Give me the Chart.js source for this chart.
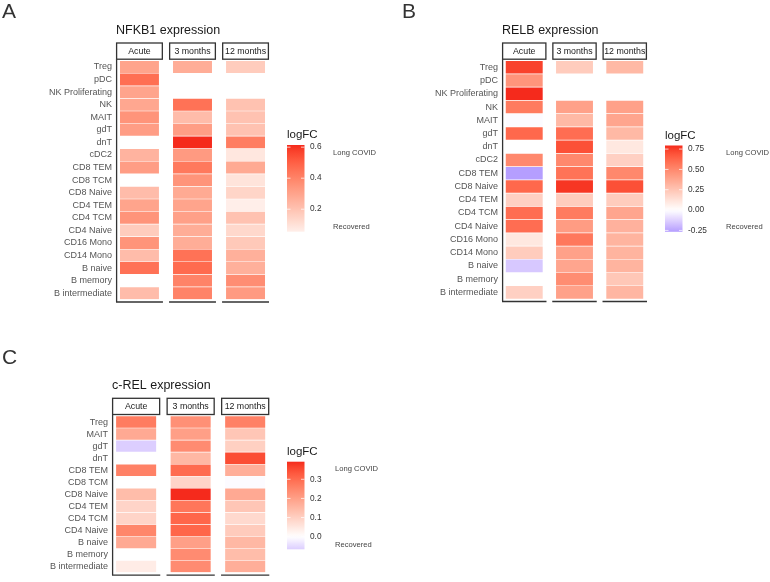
<!DOCTYPE html>
<html>
<head>
<meta charset="utf-8">
<script src="https://cdn.jsdelivr.net/npm/chart.js@4/dist/chart.umd.min.js"></script>
<style>
  body { margin: 0; background: #fff; width: 770px; height: 582px; position: relative; overflow: hidden; }
  .panel { position: absolute; }
</style>
</head>
<body>
<div class="panel" style="left:0;top:0"><canvas id="chartA" width="385" height="310"></canvas></div>
<div class="panel" style="left:385px;top:0"><canvas id="chartB" width="385" height="310"></canvas></div>
<div class="panel" style="left:0;top:305px"><canvas id="chartC" width="385" height="277"></canvas></div>
<script>
const facets = ['Acute', '3 months', '12 months'];

// panel A - NFKB1
const cellsA = ['Treg', 'pDC', 'NK Proliferating', 'NK', 'MAIT', 'gdT', 'dnT', 'cDC2', 'CD8 TEM', 'CD8 TCM',
  'CD8 Naive', 'CD4 TEM', 'CD4 TCM', 'CD4 Naive', 'CD16 Mono', 'CD14 Mono', 'B naive', 'B memory', 'B intermediate'];
const nfkb1Acute = [0.30, 0.46, 0.30, 0.29, 0.35, 0.32, null, 0.25, 0.32, null, 0.22, 0.30, 0.35, 0.17, 0.35, 0.22, 0.45, null, 0.22];
const nfkb1M3 = [0.27, null, null, 0.45, 0.22, 0.32, 0.614, 0.33, 0.43, 0.35, 0.28, 0.30, 0.31, 0.27, 0.27, 0.45, 0.47, 0.40, 0.40];
const nfkb1M12 = [0.17, null, null, 0.20, 0.20, 0.20, 0.42, 0.08, 0.28, 0.09, 0.14, 0.055, 0.20, 0.13, 0.18, 0.26, 0.26, 0.37, 0.33];
const ticksA = [0.2, 0.4, 0.6];

// panel B - RELB
const cellsB = ['Treg', 'pDC', 'NK Proliferating', 'NK', 'MAIT', 'gdT', 'dnT', 'cDC2', 'CD8 TEM',
  'CD8 Naive', 'CD4 TEM', 'CD4 TCM', 'CD4 Naive', 'CD16 Mono', 'CD14 Mono', 'B naive', 'B memory', 'B intermediate'];
const relbAcute = [0.74, 0.45, 0.794, 0.55, -0.01, 0.62, null, 0.50, -0.267, 0.62, 0.20, 0.60, 0.60, 0.10, 0.22, -0.15, null, 0.20];
const relbM3 = [0.22, null, null, 0.40, 0.30, 0.60, 0.70, 0.50, 0.58, 0.77, 0.22, 0.55, 0.42, 0.56, 0.40, 0.38, 0.48, 0.40];
const relbM12 = [0.30, null, null, 0.40, 0.38, 0.30, 0.10, 0.20, 0.50, 0.70, 0.22, 0.38, 0.33, 0.32, 0.32, 0.32, 0.24, 0.31];
const ticksB = [-0.25, 0, 0.25, 0.5, 0.75];

// panel C - c-REL
const cellsC = ['Treg', 'MAIT', 'gdT', 'dnT', 'CD8 TEM', 'CD8 TCM', 'CD8 Naive', 'CD4 TEM', 'CD4 TCM', 'CD4 Naive',
  'B naive', 'B memory', 'B intermediate'];
const crelAcute = [0.27, 0.18, -0.066, null, 0.26, null, 0.14, 0.09, 0.09, 0.25, 0.18, null, 0.04];
const crelM3 = [0.23, 0.20, 0.24, 0.15, 0.30, 0.09, 0.392, 0.28, 0.31, 0.31, 0.20, 0.24, 0.24];
const crelM12 = [0.26, 0.12, 0.10, 0.35, 0.17, -0.005, 0.18, 0.12, 0.08, 0.11, 0.15, 0.14, 0.17];
const ticksC = [0, 0.1, 0.2, 0.3];

const FONT = '"Liberation Sans", Arial, Helvetica, sans-serif';
const GAP = 0.13;     // space between facets, in facet widths
const INSET = 0.085;  // tile padding inside a facet

// ggplot-like gradient2 (white midpoint), interpolated in Lab
function toLab(hex) {
  const c = [1, 3, 5].map(i => parseInt(hex.substr(i, 2), 16) / 255)
    .map(v => v <= 0.04045 ? v / 12.92 : Math.pow((v + 0.055) / 1.055, 2.4));
  const X = (c[0] * 0.4124 + c[1] * 0.3576 + c[2] * 0.1805) / 0.95047;
  const Y = c[0] * 0.2126 + c[1] * 0.7152 + c[2] * 0.0722;
  const Z = (c[0] * 0.0193 + c[1] * 0.1192 + c[2] * 0.9505) / 1.08883;
  const f = t => t > 0.008856 ? Math.cbrt(t) : 7.787 * t + 16 / 116;
  return [116 * f(Y) - 16, 500 * (f(X) - f(Y)), 200 * (f(Y) - f(Z))];
}
function fromLab([L, a, b]) {
  const fy = (L + 16) / 116, fx = fy + a / 500, fz = fy - b / 200;
  const g = t => t * t * t > 0.008856 ? t * t * t : (t - 16 / 116) / 7.787;
  const X = g(fx) * 0.95047, Y = g(fy), Z = g(fz) * 1.08883;
  const rgb = [
    X * 3.2406 - Y * 1.5372 - Z * 0.4986,
    -X * 0.9689 + Y * 1.8758 + Z * 0.0415,
    X * 0.0557 - Y * 0.2040 + Z * 1.0570
  ].map(v => {
    v = v <= 0.0031308 ? 12.92 * v : 1.055 * Math.pow(v, 1 / 2.4) - 0.055;
    return Math.round(Math.min(1, Math.max(0, v)) * 255);
  });
  return `rgb(${rgb.join(',')})`;
}
const labHigh = toLab('#F52A1C'), labMid = toLab('#FFFFFF');
const labLow = [12, 86, -135]; // strong violet end, so light tints look like the figure
function fillColor(v, maxAbs) {
  const t = Math.min(1, Math.abs(v) / maxAbs);
  const end = v >= 0 ? labHigh : labLow;
  return fromLab(labMid.map((m, i) => m + (end[i] - m) * t));
}

const facetPlugin = {
  id: 'facets',
  afterDraw(chart, args, o) {
    const { ctx, chartArea: ca, scales: { x } } = chart;
    ctx.save();

    ctx.fillStyle = '#333';
    ctx.textAlign = 'left';
    ctx.textBaseline = 'alphabetic';
    ctx.font = `21px ${FONT}`;
    ctx.fillText(o.letter, o.letterX, o.letterY);

    ctx.fillStyle = '#1a1a1a';
    ctx.font = `12.5px ${FONT}`;
    ctx.fillText(o.title, ca.left, o.titleY);

    const stripBottom = ca.top - 1.5;
    const panelBottom = ca.bottom + 2.5;
    ctx.strokeStyle = '#333';
    ctx.lineWidth = 1.3;
    facets.forEach((f, k) => {
      const x0 = x.getPixelForValue(k * (1 + GAP));
      const x1 = x.getPixelForValue(k * (1 + GAP) + 1);
      ctx.fillStyle = '#fff';
      ctx.fillRect(x0 + 0.6, o.stripTop, x1 - x0 - 1.2, stripBottom - o.stripTop);
      ctx.strokeRect(x0 + 0.6, o.stripTop, x1 - x0 - 1.2, stripBottom - o.stripTop);
      ctx.fillStyle = '#1a1a1a';
      ctx.font = `8.8px ${FONT}`;
      ctx.textAlign = 'center';
      ctx.textBaseline = 'middle';
      ctx.fillText(f, (x0 + x1) / 2, (o.stripTop + stripBottom) / 2 + 0.5);
      ctx.beginPath();
      ctx.moveTo(x0, panelBottom);
      ctx.lineTo(x1, panelBottom);
      ctx.stroke();
    });
    ctx.beginPath();
    ctx.moveTo(ca.left + 0.6, stripBottom);
    ctx.lineTo(ca.left + 0.6, panelBottom);
    ctx.stroke();

    // colour bar legend
    const lg = o.legend;
    const yOf = v => lg.top + (lg.max - v) / (lg.max - lg.min) * lg.h;
    const grad = ctx.createLinearGradient(0, lg.top, 0, lg.top + lg.h);
    for (let i = 0; i <= 30; i++) {
      const v = lg.max - (lg.max - lg.min) * i / 30;
      grad.addColorStop(i / 30, fillColor(v, lg.maxAbs));
    }
    ctx.fillStyle = grad;
    ctx.fillRect(lg.x, lg.top, lg.w, lg.h);

    ctx.fillStyle = '#1a1a1a';
    ctx.textAlign = 'left';
    ctx.textBaseline = 'alphabetic';
    ctx.font = `11.5px ${FONT}`;
    ctx.fillText('logFC', lg.x, lg.top - 7);

    ctx.strokeStyle = 'rgba(255,255,255,0.9)';
    ctx.lineWidth = 0.8;
    ctx.font = `8.3px ${FONT}`;
    ctx.textBaseline = 'middle';
    ctx.fillStyle = '#333';
    lg.ticks.forEach(t => {
      const y = yOf(t);
      ctx.beginPath();
      ctx.moveTo(lg.x, y); ctx.lineTo(lg.x + 3.5, y);
      ctx.moveTo(lg.x + lg.w - 3.5, y); ctx.lineTo(lg.x + lg.w, y);
      ctx.stroke();
      ctx.fillText(t.toFixed(lg.digits), lg.x + lg.w + 5.5, y);
    });
    ctx.fillStyle = '#444';
    ctx.font = `7.6px ${FONT}`;
    ctx.fillText('Long COVID', lg.noteX, lg.top + 7.5);
    ctx.fillText('Recovered', lg.noteX, lg.top + lg.h - 4.5);
    ctx.restore();
  }
};

function makePanel(id, rows, series, ticks, digits, g) {
  const all = series.flat().filter(v => v !== null);
  const min = Math.min(...all), max = Math.max(...all);
  const maxAbs = Math.max(Math.abs(min), Math.abs(max));
  const canvas = document.getElementById(id);

  new Chart(canvas, {
    type: 'bar',
    data: {
      labels: rows,
      datasets: series.map((vals, k) => ({
        label: facets[k],
        data: vals.map(v => v === null ? null : [k * (1 + GAP) + INSET, k * (1 + GAP) + 1 - INSET]),
        backgroundColor: vals.map(v => v === null ? 'rgba(0,0,0,0)' : fillColor(v, maxAbs)),
        borderWidth: 0,
        barPercentage: 0.95,
        categoryPercentage: 1,
        grouped: false
      }))
    },
    options: {
      indexAxis: 'y',
      responsive: false,
      animation: false,
      layout: {
        padding: { left: 0, top: g.top, right: canvas.width - g.right, bottom: canvas.height - g.bottom }
      },
      plugins: {
        legend: { display: false },
        tooltip: { enabled: false },
        facets: {
          letter: g.letter, letterX: g.letterX, letterY: g.letterY,
          title: g.title, titleY: g.titleY, stripTop: g.stripTop,
          legend: { x: g.legX, top: g.legTop, h: g.legH, w: 17.5, min, max, maxAbs, ticks, digits, noteX: g.noteX }
        }
      },
      scales: {
        x: { type: 'linear', min: 0, max: 3 + 2 * GAP, display: false },
        y: {
          grid: { display: false, drawTicks: false },
          border: { display: false },
          ticks: { color: '#555', font: { size: 9, family: FONT }, padding: 4, autoSkip: false },
          afterFit(scale) { scale.width = g.left; }
        }
      }
    },
    plugins: [facetPlugin]
  });
}

makePanel('chartA', cellsA, [nfkb1Acute, nfkb1M3, nfkb1M12], ticksA, 1, {
  left: 116, right: 269, top: 60.7, bottom: 299.5,
  letter: 'A', letterX: 2, letterY: 18, title: 'NFKB1 expression', titleY: 33.5, stripTop: 43,
  legX: 287, legTop: 145, legH: 86.7, noteX: 333
});
makePanel('chartB', cellsB, [relbAcute, relbM3, relbM12], ticksB, 2, {
  left: 117, right: 262, top: 60.7, bottom: 299,
  letter: 'B', letterX: 17, letterY: 18, title: 'RELB expression', titleY: 33.5, stripTop: 43,
  legX: 280, legTop: 145.5, legH: 86.3, noteX: 341
});
makePanel('chartC', cellsC, [crelAcute, crelM3, crelM12], ticksC, 1, {
  left: 112, right: 269.3, top: 111, bottom: 274.3,
  letter: 'C', letterX: 2, letterY: 59, title: 'c-REL expression', titleY: 83.5, stripTop: 93.3,
  legX: 287, legTop: 156.7, legH: 87.6, noteX: 335
});
</script>
</body>
</html>
